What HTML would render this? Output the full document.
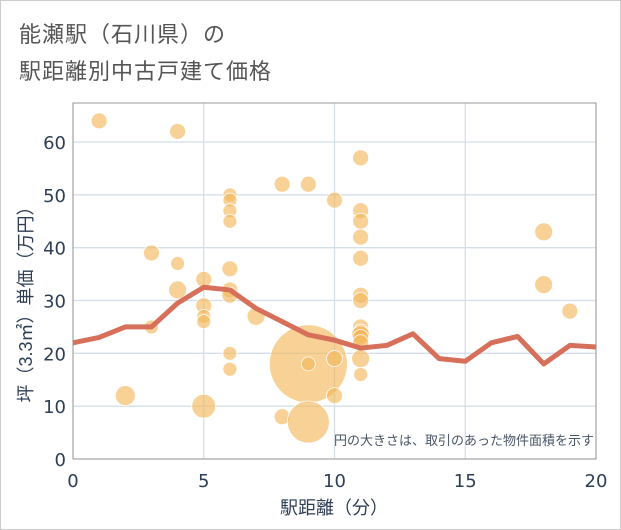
<!DOCTYPE html>
<html><head><meta charset="utf-8"><style>
body{margin:0;background:#fff;}
#wrap{position:relative;width:619px;height:528px;border:1px solid #ccc;background:#fff;font-family:"Liberation Sans","Noto Sans CJK JP",sans-serif;}
.t{position:absolute;left:18px;color:#555;font-size:22px;letter-spacing:1px;}
</style></head><body>
<div id="wrap">
<div class="t" style="top:16px">能瀬駅（石川県）の</div>
<div class="t" style="top:53px">駅距離別中古戸建て価格</div>
<svg id="c" width="621" height="530" style="position:absolute;left:-1px;top:-1px"></svg>
</div>
<script>
const xTicks=[0,5,10,15,20];
const yTicks=[0,10,20,30,40,50,60];
const lineX=[0,1,2,3,4,5,6,7,8,9,10,11,12,13,14,15,16,17,18,19,20];
const lineY=[22,23,25,25,29.5,32.5,32,28.5,26,23.5,22.5,21,21.5,23.7,19,18.5,22,23.2,18,21.5,21.2];
const bubX=[1,4,3,4,4,3,2,5,5,5,5,5,6,6,6,6,6,6,6,6,6,7,8,9,8,9,9,9,10,10,10,11,11,11,11,11,11,11,11,11,11,11,11,11,11,18,18,19];
const bubY=[64,62,39,37,32,25,12,34,29,27,26,10,50,49,47,45,36,32,31,20,17,27,52,52,8,18,18,7,49,19,12,57,47,45,42,38,31,30,25,24,23.5,23,22,19,16,43,33,28];
const bubS=[8,8,8,7,9,7,10,8,8,7,7,12,7,7,7,7,8,8,8,7,7,9,8,8,8,39,7,21,8,8,8,8,8,8,8,8,8,8,8,8,9,8,8,9,7,9,9,8];
const svg=document.getElementById('c');
const NS='http://www.w3.org/2000/svg';
const L=73,R=596,T=103,B=459;
const xs=v=>L+(v-0)/20*(R-L);
const ys=v=>B-v*(317/60);
function mk(tag,attrs,parent){const e=document.createElementNS(NS,tag);for(const k in attrs)e.setAttribute(k,attrs[k]);(parent||svg).appendChild(e);return e;}
const grid=mk('g',{});


xTicks.forEach(v=>{const l=mk('line',{x1:xs(v),x2:xs(v),y1:T,y2:B,stroke:'#d5dfea','stroke-width':1.3},grid);


const t=mk('text',{x:xs(v),y:487,'text-anchor':'middle','font-size':18,fill:'#2d3e55','font-family':'DejaVu Sans, sans-serif'});t.textContent=v;

});
yTicks.forEach(v=>{const l=mk('line',{x1:L,x2:R,y1:ys(v),y2:ys(v),stroke:'#d5dfea','stroke-width':1.3},grid);


const t=mk('text',{x:66,y:ys(v)+7,'text-anchor':'end','font-size':18,fill:'#2d3e55','font-family':'DejaVu Sans, sans-serif'});t.textContent=v;

});
const frame=mk('rect',{x:L,y:T,width:R-L,height:B-T,fill:'none',stroke:'#999','stroke-width':1});


const bg=mk('g',{});


bubX.forEach((x,i)=>{const c=mk('circle',{cx:xs(x),cy:ys(bubY[i]),r:bubS[i],fill:'rgba(242,184,94,0.65)',stroke:'#fff','stroke-width':0.8},bg);

});
const p=mk('polyline',{points:lineX.map((x,i)=>xs(x)+','+ys(lineY[i])).join(' '),fill:'none',stroke:'#d6705a','stroke-width':5,'stroke-linejoin':'round'});


const note=mk('text',{x:594,y:445,'text-anchor':'end','font-size':13,fill:'#4a5566'});note.textContent='円の大きさは、取引のあった物件面積を示す';


const xt=mk('text',{x:334,y:514,'text-anchor':'middle','font-size':18,fill:'#2d3e55'});xt.textContent='駅距離（分）';


const yt=mk('text',{x:0,y:0,'text-anchor':'middle','font-size':18,fill:'#2d3e55',transform:'translate(32,300) rotate(-90)'});yt.textContent='坪（3.3㎡）単価（万円）';


</script>
</body></html>
